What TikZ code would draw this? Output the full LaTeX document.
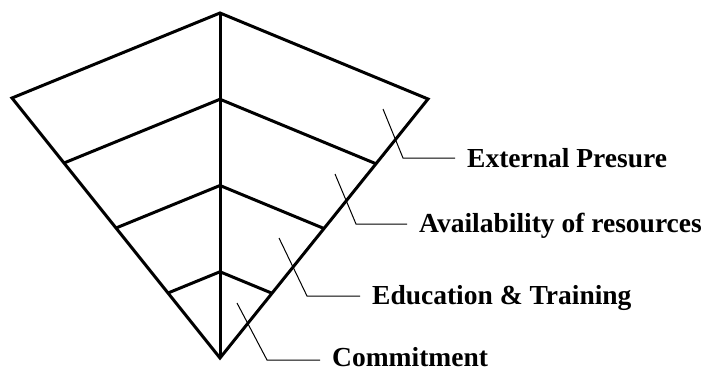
\documentclass[tikz,border=0pt]{standalone}
\usepackage{fontspec}
\setmainfont{Liberation Serif}
\usepackage{tikz}
\usetikzlibrary{calc}
\tikzset{
  edge/.style={draw=black,line width=3pt,line join=miter},
  leader/.style={draw=black,line width=1pt},
  layerlabel/.style={anchor=base west,inner xsep=12pt,inner ysep=0pt,font=\fontsize{27.5}{30}\selectfont\bfseries}
}

\begin{document}
\begin{tikzpicture}[x=1pt,y=-1pt]
\useasboundingbox (0,0) rectangle (709,372);
% corners of the inverted pyramid
\coordinate (apex) at (220,358);
\coordinate (top) at (220,13);
\coordinate (left) at (12,98);
\coordinate (right) at (428,99);

% outline and middle ridge
\draw[edge] (apex) -- (left) -- (top) -- (right) -- cycle;
\draw[edge] (top) -- (apex);
% layers
\foreach \s in {0.75,0.5,0.25}
  \draw[edge] ($(apex)!\s!(left)$) -- ($(apex)!\s!(top)$) -- ($(apex)!\s!(right)$);

% labels
\node[layerlabel] (press) at (455,167) {External Presure};
\node[layerlabel] (avail) at (407,232) {Availability of resources};
\node[layerlabel] (edu) at (360,304) {Education \& Training};
\node[layerlabel] (commit) at (320,366) {Commitment};

\coordinate (press0) at (383,109);
\coordinate (press1) at (403,158);
\coordinate (avail0) at (335,174);
\coordinate (avail1) at (356,224);
\coordinate (edu0) at (279,238);
\coordinate (edu1) at (307,296);
\coordinate (commit0) at (237,303);
\coordinate (commit1) at (267,360);

\draw[leader] (press0) -- (press1) -- (press1 -| press.west);
\draw[leader] (avail0) -- (avail1) -- (avail1 -| avail.west);
\draw[leader] (edu0) -- (edu1) -- (edu1 -| edu.west);
\draw[leader] (commit0) -- (commit1) -- (commit1 -| commit.west);
\end{tikzpicture}
\end{document}
